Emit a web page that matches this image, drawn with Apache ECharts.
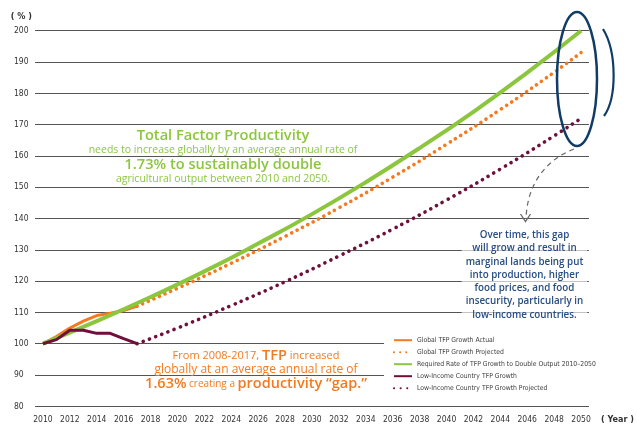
<!DOCTYPE html>
<html>
<head>
<meta charset="utf-8">
<script src="https://cdn.jsdelivr.net/npm/echarts@6/dist/echarts.min.js"></script>
<style>
  html, body { margin: 0; padding: 0; background: #fff; }
  #chart { width: 637px; height: 427px; }
</style>
</head>
<body>
<div id="chart"></div>
<script>
// x-axis tick labels
const yearTicks = [2010, 2012, 2014, 2016, 2018, 2020, 2022, 2024, 2026, 2028, 2030,
  2032, 2034, 2036, 2038, 2040, 2042, 2044, 2046, 2048, 2050];

// Global TFP growth, actual
const actualYears = [2010, 2011, 2012, 2013, 2014, 2015, 2016, 2017];
const globalActual = [100, 102.3, 105, 107.2, 109, 109.7, 110.6, 112];

// projections
const projYears = [2017, 2020, 2024, 2028, 2032, 2036, 2040, 2044, 2048, 2050];
const globalProjected = [112, 117.7, 125.7, 134.3, 143.4, 153.2, 163.7, 174.8, 186.7, 193];
const lowIncomeProjected = [100, 105, 112.2, 119.8, 128, 136.6, 145.9, 155.8, 166.4, 172];

// required rate to double output 2010-2050
const requiredYears = [2010, 2014, 2018, 2022, 2026, 2030, 2034, 2038, 2042, 2046, 2050];
const requiredRate = [100, 107.2, 114.9, 123.1, 132, 141.4, 151.6, 162.5, 174.1, 186.6, 200];

// low-income country TFP growth, actual
const lowIncomeActual = [100, 101.3, 104.3, 104.3, 103.3, 103.3, 101.6, 100];

const pairs = (xs, ys) => xs.map((x, i) => [x, ys[i]]);

const ORANGE = '#f47a20';
const GREEN = '#8cc63f';
const MAROON = '#6e0f3c';
const NAVY = '#103c66';
const narrow = '"Liberation Sans Narrow", "DejaVu Sans Condensed", "Roboto", sans-serif';
const sans = '"Open Sans", "Noto Sans", sans-serif';

const chart = echarts.init(document.getElementById('chart'));

chart.setOption({
  animation: false,
  grid: { left: 35, right: 44, top: 30.7, bottom: 20.7 },
  xAxis: {
    type: 'value',
    min: 2009.41,
    max: 2050.59,
    name: '( Year )',
    nameGap: 12,
    nameTextStyle: { fontFamily: narrow, fontSize: 9, color: '#333', fontWeight: 'bold', verticalAlign: 'top', padding: [9, 0, 0, 0] },
    axisLine: { show: false },
    axisTick: { show: false },
    splitLine: { show: false },
    axisLabel: {
      customValues: yearTicks,
      margin: 9,
      fontFamily: narrow,
      fontSize: 8.5,
      color: '#333',
      formatter: (v) => String(v)
    }
  },
  yAxis: {
    type: 'value',
    min: 80,
    max: 200,
    interval: 10,
    name: '( % )',
    nameGap: 10,
    nameTextStyle: { fontFamily: narrow, fontSize: 9, color: '#333', fontWeight: 'bold', align: 'right', padding: [0, 3, 0, 0] },
    axisLine: { show: false },
    axisTick: { show: false },
    axisLabel: { align: 'left', margin: 21, fontFamily: narrow, fontSize: 8.5, color: '#333' },
    splitLine: { lineStyle: { color: '#555', width: 1.2 } }
  },
  legend: {
    orient: 'vertical',
    left: 384,
    top: 332.7,
    itemWidth: 18,
    itemHeight: 8,
    itemGap: 5,
    padding: [4, 10, 4, 9],
    backgroundColor: '#fff',
    itemStyle: { opacity: 0 },
    textStyle: { fontFamily: narrow, fontSize: 6.8, color: '#3d3d3d' },
    data: [
      'Global TFP Growth Actual',
      'Global TFP Growth Projected',
      'Required Rate of TFP Growth to Double Output 2010–2050',
      'Low-Income Country TFP Growth',
      'Low-Income Country TFP Growth Projected'
    ]
  },
  series: [
    {
      name: 'Global TFP Growth Actual',
      type: 'line',
      symbol: 'none',
      color: ORANGE,
      lineStyle: { width: 3 },
      data: pairs(actualYears, globalActual)
    },
    {
      name: 'Global TFP Growth Projected',
      type: 'line',
      symbol: 'none',
      smooth: true,
      color: ORANGE,
      lineStyle: { width: 3.6, type: [0.1, 6], cap: 'round' },
      data: pairs(projYears, globalProjected)
    },
    {
      name: 'Required Rate of TFP Growth to Double Output 2010–2050',
      type: 'line',
      symbol: 'none',
      smooth: true,
      color: GREEN,
      lineStyle: { width: 4 },
      data: pairs(requiredYears, requiredRate)
    },
    {
      name: 'Low-Income Country TFP Growth',
      type: 'line',
      symbol: 'none',
      color: MAROON,
      lineStyle: { width: 3 },
      data: pairs(actualYears, lowIncomeActual)
    },
    {
      name: 'Low-Income Country TFP Growth Projected',
      type: 'line',
      symbol: 'none',
      smooth: true,
      color: MAROON,
      lineStyle: { width: 3.6, type: [0.1, 6.5], cap: 'round' },
      data: pairs(projYears, lowIncomeProjected)
    }
  ],
  graphic: [
    // circled gap at 2050
    {
      type: 'ellipse',
      shape: { cx: 577, cy: 79, rx: 20, ry: 67 },
      style: { fill: 'none', stroke: NAVY, lineWidth: 2.5 },
      z: 20
    },
    {
      type: 'bezierCurve',
      shape: { x1: 603, y1: 29, cpx1: 617, cpy1: 52, cpx2: 617, cpy2: 98, x2: 604, y2: 116 },
      style: { fill: 'none', stroke: NAVY, lineWidth: 2.2 },
      z: 20
    },
    // dashed arrow
    {
      type: 'bezierCurve',
      shape: { x1: 574, y1: 149, cpx1: 545, cpy1: 160, cpx2: 527, cpy2: 185, x2: 526, y2: 219 },
      style: { fill: 'none', stroke: '#666', lineWidth: 1.2, lineDash: [5, 4] },
      z: 20
    },
    {
      type: 'polyline',
      shape: { points: [[520.5, 214], [525.5, 221.5], [530.5, 214]] },
      style: { fill: 'none', stroke: '#666', lineWidth: 1.3 },
      z: 20
    },
    // green annotation
    {
      type: 'text',
      x: 223,
      y: 128,
      z: 20,
      style: {
        text: '{a|Total Factor Productivity}\n{b|needs to increase globally by an average annual rate of}\n{a|1.73% to sustainably double}\n{b|agricultural output between 2010 and 2050.}',
        align: 'center',
        fill: GREEN,
        fontFamily: sans,
        rich: {
          a: { fontSize: 14.6, fontWeight: 600, lineHeight: 14.7, fill: GREEN, fontFamily: sans },
          b: { fontSize: 10.5, lineHeight: 14.7, fill: GREEN, fontFamily: sans }
        }
      }
    },
    // orange annotation
    {
      type: 'text',
      x: 256,
      y: 349.5,
      z: 20,
      style: {
        text: '{s|From 2008-2017, }{l|TFP}{s| increased}\n{m|globally at an average annual rate of}\n{l|1.63%}{c| creating a }{l|productivity “gap.”}',
        align: 'center',
        fill: ORANGE,
        fontFamily: sans,
        rich: {
          s: { fontSize: 11, lineHeight: 13.7, fill: ORANGE, fontFamily: sans },
          m: { fontSize: 12, lineHeight: 13.7, fill: ORANGE, fontFamily: sans },
          c: { fontSize: 10, lineHeight: 13.7, fill: ORANGE, fontFamily: sans },
          l: { fontSize: 14.5, fontWeight: 600, lineHeight: 13.7, fill: ORANGE, fontFamily: sans }
        }
      }
    },
    // navy annotation
    {
      type: 'text',
      x: 524.5,
      y: 228.5,
      z: 20,
      style: {
        text: 'Over time, this gap\nwill grow and result in\nmarginal lands being put\ninto production, higher\nfood prices, and food\ninsecurity, particularly in\nlow-income countries.',
        align: 'center',
        fill: '#284d82',
        fontFamily: sans,
        fontSize: 9.8,
        fontWeight: 600,
        lineHeight: 13.3,
        backgroundColor: 'rgba(255,255,255,0.65)',
        padding: [0, 4, 0, 4]
      }
    }
  ]
});
</script>
</body>
</html>
